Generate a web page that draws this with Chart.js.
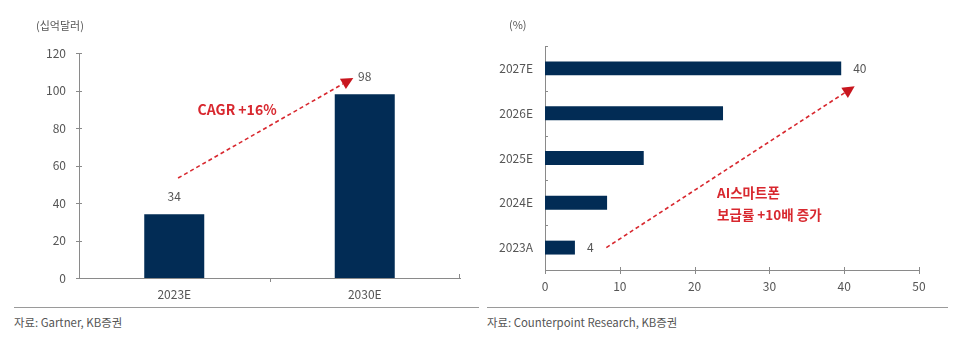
<!DOCTYPE html>
<html>
<head>
<meta charset="utf-8">
<script src="https://cdn.jsdelivr.net/npm/chart.js@4/dist/chart.umd.min.js"></script>
<style>
  html, body { margin: 0; padding: 0; background: #fff; }
  body { width: 960px; height: 342px; position: relative; overflow: hidden;
         font-family: "Noto Sans CJK KR", "Noto Sans", sans-serif; }
  .panel { position: absolute; top: 0; width: 480px; height: 300px; }
  .unit { position: absolute; font-size: 11px; color: #555; }
  .rule { position: absolute; top: 307px; height: 0; border-top: 1px solid #9a9a9a; }
  .src { position: absolute; top: 314px; font-size: 11.4px; color: #555; }
</style>
</head>
<body>
<div class="panel" style="left:0"><canvas id="c1" width="480" height="300"></canvas></div>
<div class="panel" style="left:480px"><canvas id="c2" width="480" height="300"></canvas></div>
<div class="unit" style="left:36px; top:17px">(십억달러)</div>
<div class="unit" style="left:509px; top:16px">(%)</div>
<div class="rule" style="left:14px; width:465px"></div>
<div class="rule" style="left:487px; width:461px"></div>
<div class="src" style="left:14px">자료: Gartner, KB증권</div>
<div class="src" style="left:487px">자료: Counterpoint Research, KB증권</div>
<script>
// ---- data ----
const leftCategories = ['2023E', '2030E'];
const leftValues = [34, 98];
const leftLabels = ['34', '98'];
const leftTickMin = 0, leftTickMax = 120, leftTickStep = 20;

const rightCategories = ['2023A', '2024E', '2025E', '2026E', '2027E'];
const rightValues = [4, 8.3, 13.2, 23.8, 39.6];
const rightLabels = ['4', '', '', '', '40'];
const rightTickMin = 0, rightTickMax = 50, rightTickStep = 10;

// annotations in data units: [categoryIndex/value]
const leftArrow = { fromCat: 0.02, fromVal: 53.3, toCat: 0.94, toVal: 106.7 };
const leftNote = [{ cat: 0.33, val: 90, text: 'CAGR +16%', align: 'center', size: 14 }];
const rightArrow = { fromVal: 8.2, fromCat: 0, toVal: 41.4, toCat: 3.6 };
const rightNote = [
  { cat: 1.22, val: 23, text: 'AI스마트폰', align: 'left', size: 13.5 },
  { cat: 0.73, val: 23, text: '보급률 +10배 증가', align: 'left', size: 13.5 }
];

const FONT = '"Noto Sans CJK KR", "Noto Sans", sans-serif';
const NAVY = '#022c55';
const RED = '#d8282f';
const AXIS = '#8a8a8a';
const TXT = '#555555';

function drawArrow(ctx, x1, y1, x2, y2) {
  const ang = Math.atan2(y2 - y1, x2 - x1);
  const head = 12, half = 6;
  const bx = x2 - head * Math.cos(ang), by = y2 - head * Math.sin(ang);
  ctx.save();
  ctx.strokeStyle = RED; ctx.lineWidth = 1.6; ctx.setLineDash([4, 3]);
  ctx.beginPath(); ctx.moveTo(x1, y1); ctx.lineTo(bx, by); ctx.stroke();
  ctx.setLineDash([]);
  ctx.fillStyle = '#c8161e';
  ctx.beginPath();
  ctx.moveTo(x2, y2);
  ctx.lineTo(bx + half * Math.sin(ang), by - half * Math.cos(ang));
  ctx.lineTo(bx - half * Math.sin(ang), by + half * Math.cos(ang));
  ctx.closePath(); ctx.fill();
  ctx.restore();
}

const decoPlugin = {
  id: 'deco',
  afterDatasetsDraw(chart, args, opts) {
    const ctx = chart.ctx;
    const horiz = opts.horizontal;
    const cs = horiz ? chart.scales.y : chart.scales.x;
    const vs = horiz ? chart.scales.x : chart.scales.y;
    const catPx = c => cs.getPixelForValue(c);
    const valPx = v => vs.getPixelForValue(v);
    const pt = (c, v) => horiz ? [valPx(v), catPx(c)] : [catPx(c), valPx(v)];
    ctx.save();
    // axis ticks
    ctx.strokeStyle = AXIS; ctx.lineWidth = 1;
    const area = chart.chartArea;
    if (!horiz) {
      chart.scales.y.ticks.forEach((t, i) => {
        const y = Math.round(chart.scales.y.getPixelForTick(i)) + 0.5;
        ctx.beginPath(); ctx.moveTo(area.left - 3, y); ctx.lineTo(area.left + 3, y); ctx.stroke();
      });
      const n = chart.data.labels.length;
      for (let i = 1; i < n; i++) {
        const x = Math.round((catPx(i - 1) + catPx(i)) / 2) + 0.5;
        ctx.beginPath(); ctx.moveTo(x, area.bottom); ctx.lineTo(x, area.bottom + 4); ctx.stroke();
      }
      ctx.beginPath(); ctx.moveTo(area.right - 0.5, area.bottom); ctx.lineTo(area.right - 0.5, area.bottom - 4); ctx.stroke();
    } else {
      chart.scales.x.ticks.forEach((t, i) => {
        const x = Math.round(chart.scales.x.getPixelForTick(i)) + 0.5;
        ctx.beginPath(); ctx.moveTo(x, area.bottom - 3); ctx.lineTo(x, area.bottom + 4); ctx.stroke();
      });
      const n = chart.data.labels.length;
      for (let i = 1; i < n; i++) {
        const y = Math.round((catPx(i - 1) + catPx(i)) / 2) + 0.5;
        ctx.beginPath(); ctx.moveTo(area.left, y); ctx.lineTo(area.left + 3, y); ctx.stroke();
      }
      ctx.beginPath(); ctx.moveTo(area.left, area.top + 0.5); ctx.lineTo(area.left + 3, area.top + 0.5); ctx.stroke();
    }
    // data labels
    ctx.fillStyle = TXT; ctx.font = '12px ' + FONT;
    const meta = chart.getDatasetMeta(0);
    opts.labels.forEach((lab, i) => {
      if (!lab) return;
      const el = meta.data[i];
      if (horiz) {
        ctx.textAlign = 'left'; ctx.textBaseline = 'middle';
        ctx.fillText(lab, el.x + 12, el.y);
      } else {
        ctx.textAlign = 'center'; ctx.textBaseline = 'middle';
        ctx.fillText(lab, el.x, el.y - 18);
      }
    });
    // arrow
    const a = opts.arrow;
    const p1 = pt(a.fromCat, a.fromVal), p2 = pt(a.toCat, a.toVal);
    drawArrow(ctx, p1[0], p1[1], p2[0], p2[1]);
    // notes
    ctx.fillStyle = RED; ctx.textBaseline = 'middle';
    opts.notes.forEach(nt => {
      const p = pt(nt.cat, nt.val);
      ctx.font = 'bold ' + nt.size + 'px ' + FONT;
      ctx.textAlign = nt.align;
      ctx.fillText(nt.text, p[0], p[1]);
    });
    ctx.restore();
  }
};

const tickFont = { family: FONT, size: 12 };

new Chart(document.getElementById('c1'), {
  type: 'bar',
  data: { labels: leftCategories,
    datasets: [{ data: leftValues, backgroundColor: NAVY, borderWidth: 0,
      barPercentage: 0.315, categoryPercentage: 1 }] },
  options: {
    responsive: false, animation: false, devicePixelRatio: 1,
    layout: { padding: { top: 53, right: 20, left: 0, bottom: 0 } },
    plugins: { legend: { display: false }, tooltip: { enabled: false },
      deco: { horizontal: false, labels: leftLabels, arrow: leftArrow, notes: leftNote } },
    scales: {
      x: { grid: { display: false, drawTicks: false },
        border: { color: AXIS, width: 1 },
        ticks: { color: TXT, font: tickFont, padding: 9 },
        afterFit: s => { s.height = 22; } },
      y: { min: leftTickMin, max: leftTickMax,
        grid: { display: false, drawTicks: false },
        border: { color: AXIS, width: 1 },
        ticks: { stepSize: leftTickStep, color: TXT, font: tickFont, padding: 13 },
        afterFit: s => { s.width = 79; } }
    }
  },
  plugins: [decoPlugin]
});

new Chart(document.getElementById('c2'), {
  type: 'bar',
  data: { labels: rightCategories,
    datasets: [{ data: rightValues, backgroundColor: NAVY, borderWidth: 0,
      barPercentage: 0.31, categoryPercentage: 1 }] },
  options: {
    indexAxis: 'y',
    responsive: false, animation: false, devicePixelRatio: 1,
    layout: { padding: { top: 46, right: 41, left: 0, bottom: 0 } },
    plugins: { legend: { display: false }, tooltip: { enabled: false },
      deco: { horizontal: true, labels: rightLabels, arrow: rightArrow, notes: rightNote } },
    scales: {
      x: { min: rightTickMin, max: rightTickMax,
        grid: { display: false, drawTicks: false },
        border: { color: AXIS, width: 1 },
        ticks: { stepSize: rightTickStep, color: TXT, font: tickFont, padding: 9 },
        afterFit: s => { s.height = 30; } },
      y: { reverse: true,
        grid: { display: false, drawTicks: false },
        border: { color: AXIS, width: 1 },
        ticks: { color: TXT, font: tickFont, padding: 12 },
        afterFit: s => { s.width = 65; } }
    }
  },
  plugins: [decoPlugin]
});
</script>
</body>
</html>
